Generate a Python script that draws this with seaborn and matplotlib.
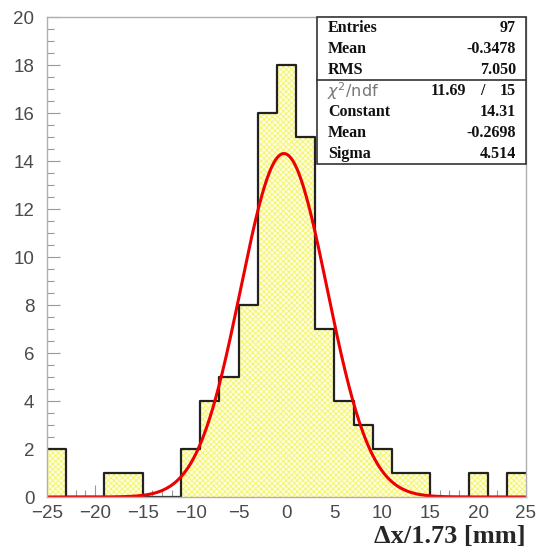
import numpy as np
import pandas as pd
import matplotlib
matplotlib.use("Agg")
import matplotlib.pyplot as plt
import seaborn as sns
from matplotlib.ticker import MultipleLocator

# ---- data ----
bin_edges = [-25, -23, -21, -19, -17, -15, -13, -11, -9, -7, -5, -3, -1,
             1, 3, 5, 7, 9, 11, 13, 15, 17, 19, 21, 23, 25]
counts = [2, 0, 0, 1, 1, 0, 0, 2, 4, 5, 8, 16, 18, 15, 7, 4, 3, 2, 1, 1,
          0, 0, 1, 0, 1]
fit_constant = 14.31
fit_mean = -0.2698
fit_sigma = 4.514
stat_labels = ["Entries", "Mean", "RMS"]
stat_values = ["97", "-0.3478", "7.050"]
fit_labels = ["Constant", "Mean", "Sigma"]
fit_values = ["14.31", "-0.2698", "4.514"]
chi2_value = "11.69"
ndf_value = "15"
x_label = "Δx/1.73 [mm]"

sns.set_style("white")
plt.rcParams["hatch.linewidth"] = 0.7
plt.rcParams["hatch.color"] = "#f4f470"

fig = plt.figure(figsize=(5.37, 5.48), dpi=100)
W, H = 537, 548
ax = fig.add_axes([47 / W, 1 - 497 / H, (526 - 47) / W, (497 - 17) / H])

edges = np.array(bin_edges, dtype=float)
centers = (edges[:-1] + edges[1:]) / 2
df = pd.DataFrame({"x": centers, "w": np.array(counts, dtype=float)})

# filled hatched area
sns.histplot(data=df, x="x", weights="w", bins=list(bin_edges),
             element="step", fill=True, color="#ffffe4", alpha=1,
             linewidth=0, ax=ax)
for coll in ax.collections:
    coll.set_facecolor("#ffffe4")
    coll.set_hatch("xxxxxx")
    coll.set_edgecolor("#f4f470")
    coll.set_linewidth(0)
# black outline
sns.histplot(data=df, x="x", weights="w", bins=list(bin_edges),
             element="step", fill=False, color="#222222", linewidth=1.6,
             ax=ax)

# gaussian fit curve from fit parameters
xs = np.linspace(-25, 25, 600)
ys = fit_constant * np.exp(-0.5 * ((xs - fit_mean) / fit_sigma) ** 2)
sns.lineplot(x=xs, y=ys, color="#ee0000", linewidth=2.2, ax=ax)

ax.set_xlim(-25, 25)
ax.set_ylim(0, 20)
ax.set_xlabel("")
ax.set_ylabel("")

for s in ax.spines.values():
    s.set_color("#b0b0b0")
    s.set_linewidth(1.0)

ax.xaxis.set_major_locator(MultipleLocator(5))
ax.xaxis.set_minor_locator(MultipleLocator(1))
ax.yaxis.set_major_locator(MultipleLocator(2))
ax.yaxis.set_minor_locator(MultipleLocator(0.5))
ax.tick_params(which="both", direction="in", color="#999999", width=0.8,
               bottom=True, left=True, top=False, right=False)
ax.tick_params(which="major", length=9, labelsize=13.5,
               labelcolor="#4a4a4a")
ax.tick_params(axis="x", which="major", pad=6)
ax.tick_params(axis="y", which="major", pad=9)
ax.tick_params(which="minor", length=5)
ax.set_xticks(range(-25, 26, 5))
ax.set_xticklabels([f"\u2212{abs(v)}" if v < 0 else str(v)
                    for v in range(-25, 26, 5)])
for lab in ax.get_xticklabels() + ax.get_yticklabels():
    lab.set_fontfamily("Liberation Sans")

fig.text(526 / W, 1 - 536 / H, x_label, ha="right", va="center",
         fontsize=19, fontweight="bold", family="Liberation Serif")

# stats box
bx0, bx1 = 317, 526
by0, by1, bdiv = 17, 164, 80
def fx(px):
    return px / W
def fy(py):
    return 1 - py / H
box = plt.Rectangle((fx(bx0), fy(by1)), fx(bx1) - fx(bx0), fy(by0) - fy(by1),
                    transform=fig.transFigure, facecolor="white",
                    edgecolor="#333333", linewidth=1.2, zorder=5)
fig.add_artist(box)
fig.add_artist(plt.Line2D([fx(bx0), fx(bx1)], [fy(bdiv), fy(bdiv)],
                          transform=fig.transFigure, color="#333333",
                          linewidth=1.2, zorder=6))
tkw = dict(fontsize=11.5, fontweight="bold", family="Liberation Serif",
           va="center", color="#111111", zorder=7)
rows_top = [28, 49, 70]
for lab, val, y in zip(stat_labels, stat_values, rows_top):
    fig.text(fx(328), fy(y), lab, ha="left", **tkw)
    fig.text(fx(516), fy(y), val, ha="right", **tkw)
fig.text(fx(327), fy(91), r"$\chi^2$/ndf", ha="left", va="center",
         fontsize=11.5, color="#777777", family="DejaVu Sans", zorder=7)
fig.text(fx(466), fy(91), chi2_value, ha="right", **tkw)
fig.text(fx(482), fy(91), "/", ha="center", **tkw)
fig.text(fx(516), fy(91), ndf_value, ha="right", **tkw)
rows_bot = [112, 133, 154]
for lab, val, y in zip(fit_labels, fit_values, rows_bot):
    fig.text(fx(328), fy(y), lab, ha="left", **tkw)
    fig.text(fx(516), fy(y), val, ha="right", **tkw)

fig.savefig("out.png", dpi=100)
